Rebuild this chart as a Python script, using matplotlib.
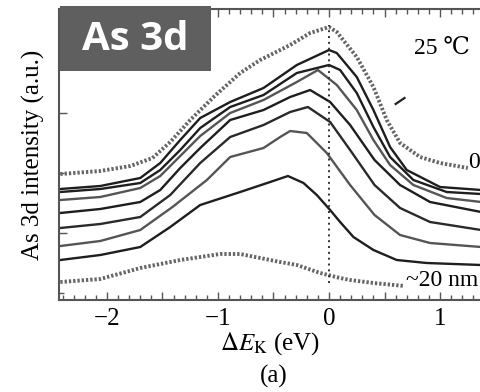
import matplotlib
matplotlib.use('Agg')
import matplotlib.pyplot as plt
from matplotlib.patches import Rectangle
from matplotlib.ticker import MultipleLocator, FuncFormatter

plt.rcParams['font.family'] = ['Liberation Serif', 'DejaVu Serif']
plt.rcParams['mathtext.fontset'] = 'stix'

# energy shift (eV) / intensity (a.u.), top to bottom
x1 = [-2.42, -2.06, -1.79, -1.59, -1.43, -1.25, -1.03, -0.80, -0.62, -0.35, -0.17, 0.0, 0.07, 0.25, 0.40, 0.52, 0.64, 0.82, 1.00, 1.25]
y1 = [179, 182, 187, 195, 211, 233, 257, 280, 293, 308, 320, 326, 321, 296, 266, 233, 210, 196, 190, 185]

x2 = [-2.42, -2.06, -1.70, -1.52, -1.34, -1.16, -0.89, -0.59, -0.29, 0.0, 0.07, 0.25, 0.40, 0.55, 0.70, 1.00, 1.37]
y2 = [164, 167, 175, 190, 213, 235, 251, 265, 288, 303, 300, 276, 243, 206, 183, 166, 163]

x3 = [-2.42, -2.06, -1.70, -1.52, -1.34, -1.16, -0.89, -0.59, -0.29, 0.0, 0.10, 0.25, 0.40, 0.55, 0.76, 1.06, 1.37]
y3 = [161, 164, 170, 183, 203, 225, 246, 258, 280, 288, 283, 260, 226, 196, 173, 161, 159]

x4 = [-2.42, -2.06, -1.70, -1.52, -1.34, -1.16, -0.89, -0.59, -0.29, -0.10, 0.07, 0.25, 0.40, 0.55, 0.76, 1.06, 1.37]
y4 = [153, 156, 165, 177, 197, 217, 240, 253, 271, 283, 268, 243, 213, 188, 168, 155, 151]

x5 = [-2.42, -2.06, -1.70, -1.52, -1.34, -1.16, -0.89, -0.59, -0.35, -0.17, 0.01, 0.19, 0.41, 0.64, 0.91, 1.37]
y5 = [140, 144, 151, 163, 185, 205, 233, 243, 256, 263, 251, 228, 193, 168, 151, 141]

x6 = [-2.42, -2.06, -1.70, -1.43, -1.16, -0.89, -0.59, -0.35, -0.19, 0.01, 0.19, 0.41, 0.64, 0.91, 1.37]
y6 = [125, 129, 136, 158, 190, 216, 228, 241, 246, 231, 203, 168, 145, 131, 123]

x7 = [-2.42, -2.06, -1.70, -1.41, -1.10, -0.89, -0.59, -0.44, -0.35, -0.20, -0.02, 0.19, 0.41, 0.64, 0.91, 1.37]
y7 = [107, 112, 123, 146, 173, 196, 205, 216, 222, 220, 200, 168, 138, 118, 110, 106]

x8 = [-2.42, -2.06, -1.70, -1.43, -1.16, -0.80, -0.53, -0.37, -0.23, -0.11, 0.01, 0.10, 0.22, 0.40, 0.61, 0.88, 1.37]
y8 = [93, 98, 106, 126, 148, 161, 171, 177, 170, 158, 143, 131, 116, 103, 93, 90, 88]

x9 = [-2.42, -2.06, -1.70, -1.34, -0.98, -0.80, -0.62, -0.44, -0.29, -0.08, 0.10, 0.19, 0.40, 0.68]
y9 = [71, 74, 85, 93, 99, 99, 95, 91, 88, 80, 75, 73, 70, 67]

solid = [(x2, y2, '#1e1e1e'), (x3, y3, '#1e1e1e'), (x4, y4, '#555555'),
         (x5, y5, '#1e1e1e'), (x6, y6, '#2a2a2a'), (x7, y7, '#555555'),
         (x8, y8, '#1e1e1e')]

fig = plt.figure(figsize=(4.81, 3.92), dpi=100)
ax = fig.add_axes([59/481, 92/392, 422/481, 291/392])

# dotted (gray) first and last spectra
for xs, ys in [(x1, y1), (x9, y9)]:
    ax.plot(xs, ys, color='#666666', lw=2.8, ls=(0, (0.6, 0.5)),
            dash_capstyle='butt')
for xs, ys, c in solid:
    ax.plot(xs, ys, color=c, lw=1.7)

ax.plot([0, 0], [70, 328], color='#333333', lw=1.4, ls=(0, (1, 2)))
ax.plot([0.60, 0.68], [249, 255], color='#222222', lw=1.6)

ax.set_xlim(-2.432, 1.369)
ax.set_ylim(53, 344)

ax.xaxis.set_major_locator(MultipleLocator(0.5))
ax.xaxis.set_minor_locator(MultipleLocator(0.1))
ax.xaxis.set_major_formatter(FuncFormatter(
    lambda v, p: ('%d' % round(v)).replace('-', '\u2212') if abs(v - round(v)) < 1e-6 else ''))
ax.yaxis.set_major_locator(MultipleLocator(120))
ax.yaxis.set_minor_locator(MultipleLocator(60))
ax.set_yticklabels([])
ax.tick_params(which='both', direction='in', top=True, right=False,
               color='#555555', width=1.0)
ax.tick_params(which='major', length=6, labelsize=18, pad=6)
ax.tick_params(which='minor', length=3.5)
for s in ['left', 'bottom', 'top']:
    ax.spines[s].set_color('#555555')
    ax.spines[s].set_linewidth(1.5)
ax.spines['right'].set_visible(False)

ax.set_xlabel(r'$\Delta E_{\mathrm{K}}$ (eV)', fontsize=18, labelpad=0)
ax.set_ylabel('As 3d intensity (a.u.)', fontsize=18, labelpad=4)
fig.text(274/481, 1 - 376/392, '(a)', fontsize=18, ha='center', va='center')

ax.text(0.77, 305, '25 \u2103', fontsize=17, ha='left', va='center')
ax.text(1.25, 190, '0', fontsize=17, ha='left', va='center')
ax.text(0.69, 73, '~20 nm', fontsize=17, ha='left', va='center')

fig.add_artist(Rectangle((60/481, 1 - 71/392), 151/481, 65/392,
                         transform=fig.transFigure, facecolor='#5f5f5f',
                         edgecolor='none', zorder=5))
fig.text(135/481, 1 - 39/392, 'As 3d', color='white', fontsize=29,
         fontweight='bold', family='Open Sans', ha='center', va='center',
         zorder=6)

fig.savefig('out.png', dpi=100)
